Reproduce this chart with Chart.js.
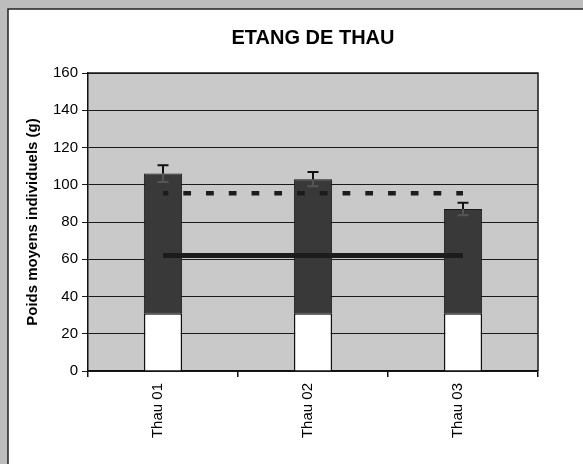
<!DOCTYPE html>
<html>
<head>
<meta charset="utf-8">
<script src="https://cdn.jsdelivr.net/npm/chart.js@4.4.1/dist/chart.umd.min.js"></script>
<style>
  html, body { margin: 0; padding: 0; background: #bdbdbd; }
  #wrap { width: 583px; height: 464px; position: relative; }
</style>
</head>
<body>
<div id="wrap"><canvas id="c" width="583" height="464"></canvas></div>
<script>
const chartTitle = 'ETANG DE THAU';
const yAxisTitle = 'Poids moyens individuels (g)';
const categories = ['Thau 01', 'Thau 02', 'Thau 03'];
const initialWeight = [31, 31, 31];
const finalWeight = [106, 103, 87];
const errorSD = [4.5, 3.8, 3.4];
const refDashed = [95.5, 95.5, 95.5];
const refSolid = [62, 62, 62];
const yMin = 0, yMax = 160, yStep = 20;

const FONT = "'Liberation Sans', Arial, sans-serif";

const backgroundPlugin = {
  id: 'bg',
  beforeDraw(chart) {
    const ctx = chart.ctx, a = chart.chartArea;
    ctx.save();
    ctx.fillStyle = '#bdbdbd';
    ctx.fillRect(0, 0, chart.width, chart.height);
    ctx.fillStyle = '#ffffff';
    ctx.fillRect(8, 9, chart.width, chart.height);
    ctx.strokeStyle = '#222';
    ctx.lineWidth = 1.5;
    ctx.beginPath();
    ctx.moveTo(8, chart.height + 5);
    ctx.lineTo(8, 9);
    ctx.lineTo(chart.width + 5, 9);
    ctx.stroke();
    ctx.fillStyle = '#c9c9c9';
    ctx.fillRect(a.left, a.top, a.right - a.left, a.bottom - a.top);
    ctx.restore();
  },
  beforeDatasetsDraw(chart) {
    const ctx = chart.ctx, a = chart.chartArea;
    ctx.save();
    ctx.strokeStyle = '#1a1a1a';
    ctx.lineWidth = 1.5;
    ctx.beginPath();
    ctx.moveTo(a.left, a.top);
    ctx.lineTo(a.right, a.top);
    ctx.lineTo(a.right, a.bottom);
    ctx.stroke();
    ctx.restore();
  },
  afterDraw(chart) {
    const ctx = chart.ctx, a = chart.chartArea;
    ctx.save();
    ctx.fillStyle = '#000';
    ctx.font = 'bold 20px ' + FONT;
    ctx.textAlign = 'center';
    ctx.textBaseline = 'middle';
    ctx.fillText(chartTitle, (a.left + a.right) / 2, 38);
    ctx.restore();
  }
};

const errorBarPlugin = {
  id: 'errbars',
  afterDatasetsDraw(chart) {
    const ctx = chart.ctx;
    const y = chart.scales.y;
    const meta = chart.getDatasetMeta(3);
    ctx.save();
    meta.data.forEach((bar, i) => {
      const x = bar.x;
      const yTop = y.getPixelForValue(finalWeight[i]);
      const yt = y.getPixelForValue(finalWeight[i] + errorSD[i]);
      const yb = y.getPixelForValue(finalWeight[i] - errorSD[i]);
      const half = 5.5;
      ctx.lineWidth = 2;
      ctx.strokeStyle = '#555';
      ctx.beginPath();
      ctx.moveTo(x, yTop); ctx.lineTo(x, yb);
      ctx.moveTo(x - half, yb); ctx.lineTo(x + half, yb);
      ctx.stroke();
      ctx.strokeStyle = '#111';
      ctx.beginPath();
      ctx.moveTo(x, yt); ctx.lineTo(x, yTop);
      ctx.moveTo(x - half, yt); ctx.lineTo(x + half, yt);
      ctx.stroke();
    });
    ctx.restore();
  }
};

new Chart(document.getElementById('c'), {
  data: {
    labels: categories,
    datasets: [
      {
        type: 'line', data: refDashed, order: 0,
        borderColor: '#1c1c1c', borderWidth: 4.5, borderDash: [7.75, 15], borderDashOffset: 2.45,
        pointRadius: 0, fill: false, tension: 0, borderCapStyle: 'butt'
      },
      {
        type: 'line', data: refSolid, order: 0,
        borderColor: '#1c1c1c', borderWidth: 5,
        pointRadius: 0, fill: false, tension: 0
      },
      {
        type: 'bar', data: initialWeight, order: 2,
        backgroundColor: '#ffffff', borderColor: '#111', borderWidth: 1.5,
        grouped: false, categoryPercentage: 1, barPercentage: 0.255
      },
      {
        type: 'bar', data: finalWeight.map((v, i) => [initialWeight[i], v]), order: 1,
        backgroundColor: '#393939', borderColor: '#1a1a1a', borderWidth: 1,
        borderSkipped: false,
        grouped: false, categoryPercentage: 1, barPercentage: 0.255
      }
    ]
  },
  options: {
    responsive: false,
    animation: false,
    devicePixelRatio: 1,
    layout: { padding: { top: 73, right: 45, bottom: 0, left: 0 } },
    plugins: { legend: { display: false }, tooltip: { enabled: false }, title: { display: false } },
    scales: {
      x: {
        offset: true,
        grid: { display: true, drawOnChartArea: false, offset: true, tickLength: 6, color: '#111', lineWidth: 1.5 },
        border: { display: true, color: '#111', width: 1.5 },
        ticks: { minRotation: 90, maxRotation: 90, padding: 6, labelOffset: -5, color: '#000', font: { family: FONT, size: 15 } },
        afterFit(s) { s.height = 93; }
      },
      y: {
        min: yMin, max: yMax,
        ticks: { stepSize: yStep, padding: 4, color: '#000', font: { family: FONT, size: 15 } },
        grid: { color: '#1a1a1a', lineWidth: 1, tickLength: 6 },
        border: { display: true, color: '#111', width: 1.5 },
        title: { display: true, text: yAxisTitle, color: '#000', font: { family: FONT, size: 15, weight: 'bold' }, padding: { top: 24, bottom: 0 } },
        afterFit(s) { s.width = 88; }
      }
    }
  },
  plugins: [backgroundPlugin, errorBarPlugin]
});
</script>
</body>
</html>
